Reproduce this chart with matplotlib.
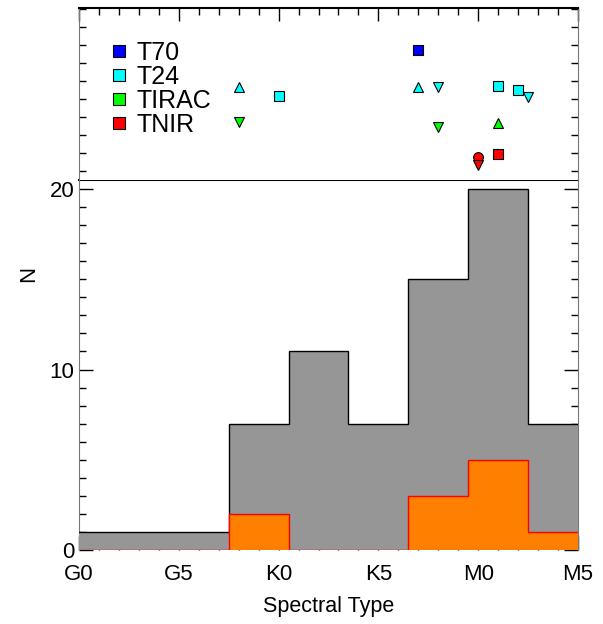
import numpy as np
import matplotlib
matplotlib.use("Agg")
import matplotlib.pyplot as plt
from matplotlib.lines import Line2D
from matplotlib.ticker import MultipleLocator

plt.rcParams['font.family'] = ['Liberation Sans', 'DejaVu Sans']

# spectral type scale: G0=0, K0=10, M0=20 (ten subclasses each)
tick_pos = [0, 5, 10, 15, 20, 25]
tick_lab = ['G0', 'G5', 'K0', 'K5', 'M0', 'M5']

# histogram, bins of 3 subclasses
bin_edges = [-1.5, 1.5, 4.5, 7.5, 10.5, 13.5, 16.5, 19.5, 22.5, 25.5]
n_all = [1, 1, 1, 7, 11, 7, 15, 20, 7]
n_sub = [0, 0, 0, 2, 0, 0, 3, 5, 1]

# upper panel: individual objects (spectral type, vertical position)
t70_x, t70_y = [17.0], [27.72]
t24_sq_x, t24_sq_y = [10.0, 21.0, 22.0], [25.18, 25.72, 25.5]
t24_up_x, t24_up_y = [8.0, 17.0], [25.65, 25.65]
t24_dn_x, t24_dn_y = [18.0, 22.5], [25.65, 25.13]
tirac_up_x, tirac_up_y = [21.0], [23.65]
tirac_dn_x, tirac_dn_y = [8.0, 18.0], [23.74, 23.46]
tnir_sq_x, tnir_sq_y = [21.0], [21.94]
tnir_ci_x, tnir_ci_y = [20.0], [21.79]
tnir_dn_x, tnir_dn_y = [20.0], [21.33]

c70, c24, cirac, cnir = '#0000ff', '#00ffff', '#00ff00', '#ff0000'

fig = plt.figure(figsize=(6.03, 6.24), dpi=100)
ax = fig.add_axes([79/603, 74/624, 499/603, 370/624])
axt = fig.add_axes([79/603, 444/624, 499/603, 172/624])

# --- histogram panel (bars drawn over the ticks, like the original)
ax.stairs(n_all, bin_edges, fill=True, color='#969696', zorder=3)
ax.stairs(n_all, bin_edges, color='black', lw=1.0, zorder=3.1)
ax.stairs(n_sub, bin_edges, fill=True, color='#ff8000', zorder=3.2)
ax.stairs(n_sub, bin_edges, color='#ff0000', lw=1.0, zorder=3.3)
ax.set_xlim(0, 25)
ax.set_ylim(0, 20.5)
ax.set_xticks(tick_pos)
ax.set_xticklabels(tick_lab)
ax.xaxis.set_minor_locator(MultipleLocator(1))
ax.set_yticks([0, 10, 20])
ax.yaxis.set_minor_locator(MultipleLocator(1))
ax.tick_params(which='both', direction='in', top=False, right=True,
               labelsize=16, color='black')
ax.tick_params(which='major', length=10, width=1)
ax.tick_params(which='minor', length=5, width=1)
ax.tick_params(axis='x', pad=10)
ax.set_xlabel('Spectral Type', fontsize=15.5, labelpad=8)
ax.set_ylabel('N', fontsize=16)
ax.yaxis.set_label_coords(-0.08, 0.745)
for s in ['left', 'right']:
    ax.spines[s].set_color('#777777')
ax.spines['top'].set_linewidth(1.5)
ax.spines['bottom'].set_visible(False)

# --- upper panel
ms_sq, ms_tri = 7, 7.5
kw = dict(ls='none', mec='black', mew=0.8)
axt.plot(t70_x, t70_y, marker='s', ms=ms_sq, mfc=c70, **kw)
axt.plot(t24_sq_x, t24_sq_y, marker='s', ms=ms_sq, mfc=c24, **kw)
axt.plot(t24_up_x, t24_up_y, marker='^', ms=ms_tri, mfc=c24, **kw)
axt.plot(t24_dn_x, t24_dn_y, marker='v', ms=ms_tri, mfc=c24, **kw)
axt.plot(tirac_up_x, tirac_up_y, marker='^', ms=ms_tri, mfc=cirac, **kw)
axt.plot(tirac_dn_x, tirac_dn_y, marker='v', ms=ms_tri, mfc=cirac, **kw)
axt.plot(tnir_sq_x, tnir_sq_y, marker='s', ms=ms_sq, mfc=cnir, **kw)
axt.plot(tnir_ci_x, tnir_ci_y, marker='o', ms=ms_sq, mfc=cnir, **kw)
axt.plot(tnir_dn_x, tnir_dn_y, marker='v', ms=ms_tri, mfc=cnir, **kw)
axt.set_xlim(0, 25)
axt.set_ylim(20.5, 30.05)
axt.set_xticks(tick_pos)
axt.xaxis.set_minor_locator(MultipleLocator(1))
axt.set_yticks([])
axt.yaxis.set_minor_locator(MultipleLocator(1))
axt.tick_params(which='both', direction='in', top=True, bottom=False,
                left=True, right=True, labelbottom=False, labelleft=False)
axt.tick_params(which='major', length=9, width=1)
axt.tick_params(which='minor', length=5, width=1)
for s in ['left', 'right']:
    axt.spines[s].set_color('#777777')
axt.spines['top'].set_linewidth(1.5)
axt.spines['bottom'].set_visible(False)

handles = [Line2D([], [], marker='s', ms=9, mfc=c, **kw)
           for c in [c70, c24, cirac, cnir]]
axt.legend(handles, ['T70', 'T24', 'TIRAC', 'TNIR'], loc='upper left',
           bbox_to_anchor=(0.062, 0.81), frameon=False, fontsize=18,
           handlelength=0.7, handletextpad=0.35, labelspacing=0.0,
           borderaxespad=0, borderpad=0)

fig.savefig('out.png', dpi=100)
